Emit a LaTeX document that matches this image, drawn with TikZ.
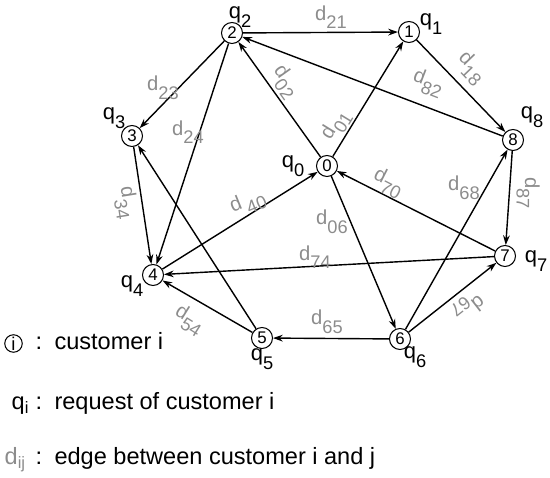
\documentclass[tikz,border=0pt]{standalone}
\usepackage{fontspec}
\setmainfont{Liberation Sans}
\usetikzlibrary{arrows.meta, positioning}
\definecolor{lblgray}{RGB}{140,140,140}
\newcommand{\lsub}[1]{\raisebox{-0.42em}{\fontsize{10.4}{11}\selectfont #1}}

\begin{document}
\begin{tikzpicture}[>={Stealth[length=5.5pt,width=3.8pt]}, line width=0.8pt,
  cust/.style={circle, draw, line width=0.6pt, minimum size=0.42cm, inner sep=0pt, font=\fontsize{9.6}{10}\selectfont},
  req/.style={font=\fontsize{12.5}{13}\selectfont, inner sep=0pt},
  dist/.style={text=lblgray, font=\fontsize{11.5}{12}\selectfont, inner sep=0pt},
  legtxt/.style={font=\fontsize{13.4}{15}\selectfont, anchor=base west, inner sep=0pt}]
  \useasboundingbox (0,0) rectangle (11,9.56);
  % customers
  \node[cust] (c0) at (6.54,6.24) {0};
  \node[cust] (c1) at (8.18,8.92) {1};
  \node[cust] (c2) at (4.64,8.90) {2};
  \node[cust] (c3) at (2.64,6.84) {3};
  \node[cust] (c4) at (3.06,4.06) {4};
  \node[cust] (c5) at (5.24,2.80) {5};
  \node[cust] (c6) at (8.00,2.78) {6};
  \node[cust] (c7) at (10.10,4.44) {7};
  \node[cust] (c8) at (10.26,6.76) {8};
  % requests
  \node[req] (q0) at (5.86,6.24) {q\lsub{0}};
  \node[req] (q1) at (8.62,9.08) {q\lsub{1}};
  \node[req] (q2) at (4.80,9.22) {q\lsub{2}};
  \node[req] (q3) at (2.28,7.20) {q\lsub{3}};
  \node[req] (q4) at (2.64,3.84) {q\lsub{4}};
  \node[req] (q5) at (5.24,2.38) {q\lsub{5}};
  \node[req] (q6) at (8.30,2.42) {q\lsub{6}};
  \node[req] (q7) at (10.72,4.34) {q\lsub{7}};
  \node[req] (q8) at (10.64,7.22) {q\lsub{8}};
  % edges
  \draw[->] (c2) -- (c1);
  \draw[->] (c0) -- (c2);
  \draw[->] (c0) -- (c1);
  \draw[->] (c1) -- (c8);
  \draw[->] (c8) -- (c2);
  \draw[->] (c2) -- (c3);
  \draw[->] (c2) -- (c4);
  \draw[->] (c3) -- (c4);
  \draw[->] (c5) -- (c3);
  \draw[->] (c4) -- (c0);
  \draw[->] (c0) -- (c6);
  \draw[->] (c7) -- (c0);
  \draw[->] (c6) -- (c8);
  \draw[->] (c8) -- (c7);
  \draw[->] (c7) -- (c4);
  \draw[->] (c6) -- (c7);
  \draw[->] (c6) -- (c5);
  \draw[->] (c5) -- (c4);
  % edge labels
  \node[dist] (d21) at (6.62,9.22) {d\lsub{21}};
  \node[dist, rotate=-54.5] (d02) at (5.70,7.92) {d\lsub{02}};
  \node[dist, rotate=58.5] (d01) at (6.72,7.06) {d\lsub{01}};
  \node[dist, rotate=-21] (d82) at (8.56,7.90) {d\lsub{82}};
  \node[dist, rotate=-46] (d18) at (9.42,8.20) {d\lsub{18}};
  \node[dist] (d23) at (3.26,7.80) {d\lsub{23}};
  \node[dist] (d24) at (3.76,6.92) {d\lsub{24}};
  \node[dist, rotate=-81] (d34) at (2.52,5.50) {d\lsub{34}};
  \node[dist, rotate=22] (d40) at (4.96,5.50) {d\hspace{2pt}\lsub{40}};
  \node[dist] (d06) at (6.64,5.12) {d\lsub{06}};
  \node[dist, rotate=-27] (d70) at (7.76,5.90) {d\lsub{70}};
  \node[dist] (d68) at (9.28,5.80) {d\lsub{68}};
  \node[dist, rotate=-90] (d87) at (10.56,5.70) {d\lsub{87}};
  \node[dist] (d74) at (6.30,4.42) {d\lsub{74}};
  \node[dist, rotate=218] (d67) at (9.36,3.42) {d\lsub{67}};
  \node[dist] (d65) at (6.54,3.12) {d\lsub{65}};
  \node[dist, rotate=-32] (d54) at (3.78,3.16) {d\lsub{54}};
  % legend
  \node[cust, minimum size=0.35cm, font=\fontsize{10.5}{10}\selectfont] (legc) at (0.27,2.69) {i};
  \node[legtxt] (legc-t) at (0.70,2.56) {:\hspace{7pt}customer i};
  \node[legtxt] (legq) at (0.22,1.36) {q\textsubscript{i}};
  \node[legtxt] (legq-t) at (0.70,1.36) {:\hspace{7pt}request of customer i};
  \node[legtxt, text=lblgray] (legd) at (0.08,0.26) {d\textsubscript{ij}};
  \node[legtxt] (legd-t) at (0.70,0.26) {:\hspace{7pt}edge between customer i and j};
\end{tikzpicture}
\end{document}
